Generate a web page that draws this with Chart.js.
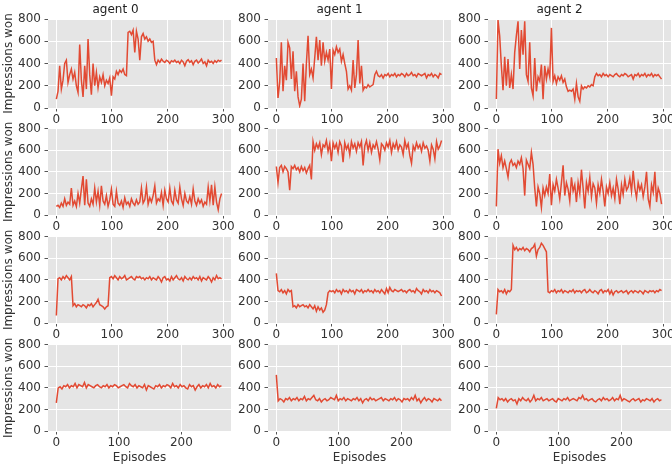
<!DOCTYPE html>
<html>
<head>
<meta charset="utf-8">
<script src="https://cdn.jsdelivr.net/npm/chart.js@4.4.0/dist/chart.umd.min.js"></script>
<style>
  body { margin: 0; background: #fff; }
  #fig { position: relative; width: 672px; height: 470px; overflow: hidden; }
  #fig canvas { position: absolute; }
</style>
</head>
<body>
<div id="fig"></div>
<script>
// one value every STEP episodes
const STEP = 3
const agentNames = ['agent 0', 'agent 1', 'agent 2']
const yTicks = [0, 200, 400, 600, 800]
const xTicksLong = [0, 100, 200, 300]
const xTicksShort = [0, 100, 200]

const row1Agent0 = [80,150,380,170,250,400,430,230,300,350, 260,320,200,140,570,250,100,380,170,620,
  300,120,400,200,320,180,280,230,300,200, 250,220,270,110,280,260,330,300,340,320,
  350,300,290,680,690,660,700,500,690,620, 430,640,670,620,640,600,620,590,600,430,
  390,430,410,440,420,410,430,420,400,425, 415,430,410,420,400,430,415,380,420,435,
  410,425,390,420,430,405,420,440,400,415, 380,430,410,420,400,425,410,430,420,430]
const row1Agent1 = [450,90,230,590,150,380,250,590,540,260, 510,150,330,100,20,80,400,60,400,650,
  300,350,270,450,640,430,610,380,590,420, 500,430,530,170,520,480,550,500,530,420,
  480,400,330,170,200,160,430,180,300,610, 220,380,160,190,180,210,190,200,210,300,
  330,290,280,300,270,300,290,310,280,300, 290,310,280,300,290,310,300,280,310,290,
  300,320,290,300,280,310,300,290,300,310, 270,300,290,310,280,300,290,270,310,300]
const row1Agent2 = [80,790,650,380,160,460,200,440,180,300, 170,500,650,780,350,700,480,780,300,240,
  590,180,110,450,150,280,240,390,80,380, 260,350,280,720,240,290,220,280,250,290,
  230,260,190,150,160,150,170,80,220,100, 60,200,170,190,180,200,190,210,200,280,
  310,290,300,280,310,290,300,280,300,290, 280,300,310,290,280,300,290,310,300,280,
  290,300,260,300,290,310,280,300,290,310, 280,300,290,310,280,300,290,300,280,260]

const row2Agent0 = [80,90,70,110,80,150,90,120,100,250, 90,130,80,200,110,240,360,90,330,110,
  80,150,100,250,120,220,90,270,130,100, 180,80,140,240,100,80,220,110,90,130,
  70,160,100,120,80,150,110,90,140,100, 120,250,110,140,260,100,160,120,180,270,
  110,150,130,210,90,230,150,120,250,130, 100,230,140,110,260,150,90,200,130,110,
  170,100,240,130,90,150,110,140,80,120, 100,260,130,280,90,260,120,50,150,200]
const row2Agent1 = [450,300,440,460,400,450,430,400,230,450, 430,460,420,440,400,450,410,440,390,430,
  460,330,680,600,660,620,670,560,650,630, 690,590,660,500,670,620,660,580,680,640,
  490,670,610,650,560,680,620,660,590,670, 630,680,460,640,690,600,670,580,650,620,
  680,610,510,660,640,600,670,630,690,580, 660,620,680,600,650,630,560,690,620,660,
  550,480,640,600,670,620,650,590,670,620, 640,600,500,650,610,520,680,610,640,690]
const row2Agent2 = [80,610,480,550,440,500,430,350,480,510, 460,480,440,500,470,530,430,180,510,470,
  430,580,470,250,80,260,200,70,250,180, 260,200,380,90,280,220,330,250,150,300,
  460,180,300,240,130,350,220,280,120,300, 200,420,250,60,300,220,350,170,290,250,
  110,280,200,330,220,80,260,200,300,180, 250,150,330,240,100,280,190,330,230,260,
  340,220,410,250,160,300,230,280,170,260, 400,150,80,280,210,400,120,250,200,100]

const row3Agent0 = [70,410,420,400,430,410,440,420,400,430, 160,180,150,170,160,150,170,160,140,170,
  160,180,150,170,190,220,170,160,150,130, 150,160,420,430,410,440,420,400,430,410,
  420,440,400,410,420,430,410,400,430,420, 430,410,420,400,420,410,430,400,420,410,
  400,430,410,380,420,430,400,410,390,430, 400,420,440,410,400,420,390,430,410,400,
  420,400,430,410,420,400,430,390,420,410, 400,430,410,380,420,400,440,410,420,410]
const row3Agent1 = [460,300,290,310,280,300,270,310,290,300, 150,160,140,170,150,160,170,150,160,140,
  170,150,130,160,110,150,120,140,100,120, 170,280,300,290,300,280,310,290,300,270,
  310,290,300,280,310,290,300,270,310,300, 290,310,280,300,290,310,290,300,280,310,
  290,300,280,310,290,270,320,280,330,300, 290,310,300,290,300,310,290,300,280,300,
  310,290,300,280,320,300,290,270,310,290, 300,280,310,290,300,280,300,290,280,250]
const row3Agent2 = [80,310,290,300,280,310,270,300,290,310, 720,680,700,670,690,680,700,670,690,680,
  660,690,700,730,620,680,700,740,720,690, 660,290,280,300,290,310,280,300,290,310,
  280,300,290,280,300,290,310,280,300,290, 300,280,300,310,280,290,310,290,280,300,
  290,270,300,310,280,300,290,310,270,300, 260,290,300,280,290,300,280,290,300,270,
  290,300,280,300,290,280,300,290,270,300, 290,280,300,290,300,280,300,290,310,300]

const row4Agent0 = [260,400,410,390,420,410,430,400,420,410, 440,400,430,420,410,450,400,430,420,410,
  400,420,430,410,400,420,410,430,400,420, 410,430,420,400,410,420,430,410,400,440,
  420,410,430,400,420,410,400,430,380,420, 410,400,390,420,410,430,400,420,410,430,
  420,400,440,410,420,400,430,410,420,400, 390,430,410,420,380,410,430,400,420,410,
  430,400,440,410,420,400,430,410,420]
const row4Agent1 = [520,280,300,290,270,300,290,310,280,300, 290,310,280,300,290,320,280,300,290,310,
  330,290,280,300,270,290,300,280,290,310, 300,290,330,280,300,290,310,280,300,290,
  280,300,290,310,280,300,260,290,300,280, 310,290,300,280,290,300,310,280,300,290,
  280,300,290,310,280,300,290,270,300,290, 300,280,310,290,330,280,300,260,290,310,
  280,300,290,270,300,290,280,300,280]
const row4Agent2 = [210,310,290,300,280,300,270,290,300,280, 290,250,300,280,310,290,280,300,270,290,
  330,280,300,290,310,280,290,300,280,290, 300,280,270,300,290,280,300,290,310,280,
  290,300,290,280,310,300,330,290,300,280, 290,300,280,270,290,300,280,310,290,300,
  280,290,310,280,300,290,330,280,300,290, 280,270,290,300,280,290,300,270,290,280,
  300,290,280,300,270,290,300,280,290]

const grid = [
  [row1Agent0, row1Agent1, row1Agent2],
  [row2Agent0, row2Agent1, row2Agent2],
  [row3Agent0, row3Agent1, row3Agent2],
  [row4Agent0, row4Agent1, row4Agent2],
]

const colLeft = [48, 268, 488]
const rowTop = [19, 126, 234, 342]
const panelW = 183
const panelH = 89
const font = { family: 'DejaVu Sans', size: 12 }
const textColor = '#333333'

const panelBg = {
  id: 'panelBg',
  beforeDraw(chart) {
    const { ctx, chartArea: a } = chart
    ctx.save()
    ctx.fillStyle = '#E5E5E5'
    ctx.fillRect(a.left, a.top, a.width, a.height)
    ctx.restore()
  }
}

const fig = document.getElementById('fig')

grid.forEach((row, r) => {
  row.forEach((vals, c) => {
    const last = r === 3
    const L = colLeft[c], T = rowTop[r]
    const canvasLeft = c === 0 ? 0 : L - 40
    const yw = L - canvasLeft
    const topSpace = r === 0 ? T : 8
    const xh = last ? 470 - (T + panelH) : 20
    const width = yw + panelW + 12
    const height = topSpace + panelH + xh

    const el = document.createElement('canvas')
    el.width = width
    el.height = height
    el.style.left = canvasLeft + 'px'
    el.style.top = (T - topSpace) + 'px'
    el.style.width = width + 'px'
    el.style.height = height + 'px'
    fig.appendChild(el)

    const xs = last ? xTicksShort : xTicksLong
    const points = vals.map((v, i) => ({ x: i * STEP, y: v }))

    new Chart(el, {
      type: 'line',
      data: {
        datasets: [{
          data: points,
          borderColor: '#E24A33',
          borderWidth: 1.5,
          pointRadius: 0,
          tension: 0,
          fill: false
        }]
      },
      options: {
        responsive: false,
        animation: false,
        devicePixelRatio: 1,
        layout: { padding: { top: r === 0 ? 0 : 8, right: 12, left: 0, bottom: 0 } },
        plugins: {
          legend: { display: false },
          tooltip: { enabled: false },
          title: {
            display: r === 0,
            text: agentNames[c],
            color: '#222',
            font: { family: 'DejaVu Sans', size: 12, weight: 'normal', lineHeight: 1 },
            padding: { top: 4, bottom: 3 }
          }
        },
        scales: {
          x: {
            type: 'linear',
            min: last ? -13.3 : -15,
            max: last ? 279.3 : 314,
            afterBuildTicks: s => { s.ticks = xs.map(v => ({ value: v })) },
            afterFit: s => { s.height = xh },
            grid: { color: '#fff', lineWidth: 1, tickLength: 3.5, tickColor: '#555' },
            border: { display: false },
            ticks: { font, color: textColor, padding: 1, maxRotation: 0, autoSkip: false },
            title: {
              display: last,
              text: 'Episodes',
              color: textColor,
              font,
              padding: { top: 0, bottom: 5 }
            }
          },
          y: {
            min: 0,
            max: 800,
            afterBuildTicks: s => { s.ticks = yTicks.map(v => ({ value: v })) },
            afterFit: s => { s.width = yw },
            grid: { color: '#fff', lineWidth: 1, tickLength: 3.5, tickColor: '#555' },
            border: { display: false },
            ticks: { font, color: textColor, padding: 3.5 },
            title: {
              display: c === 0,
              text: 'Impressions won',
              color: textColor,
              font,
              padding: { top: 2, bottom: 0 }
            }
          }
        }
      },
      plugins: [panelBg]
    })
  })
})
</script>
</body>
</html>
